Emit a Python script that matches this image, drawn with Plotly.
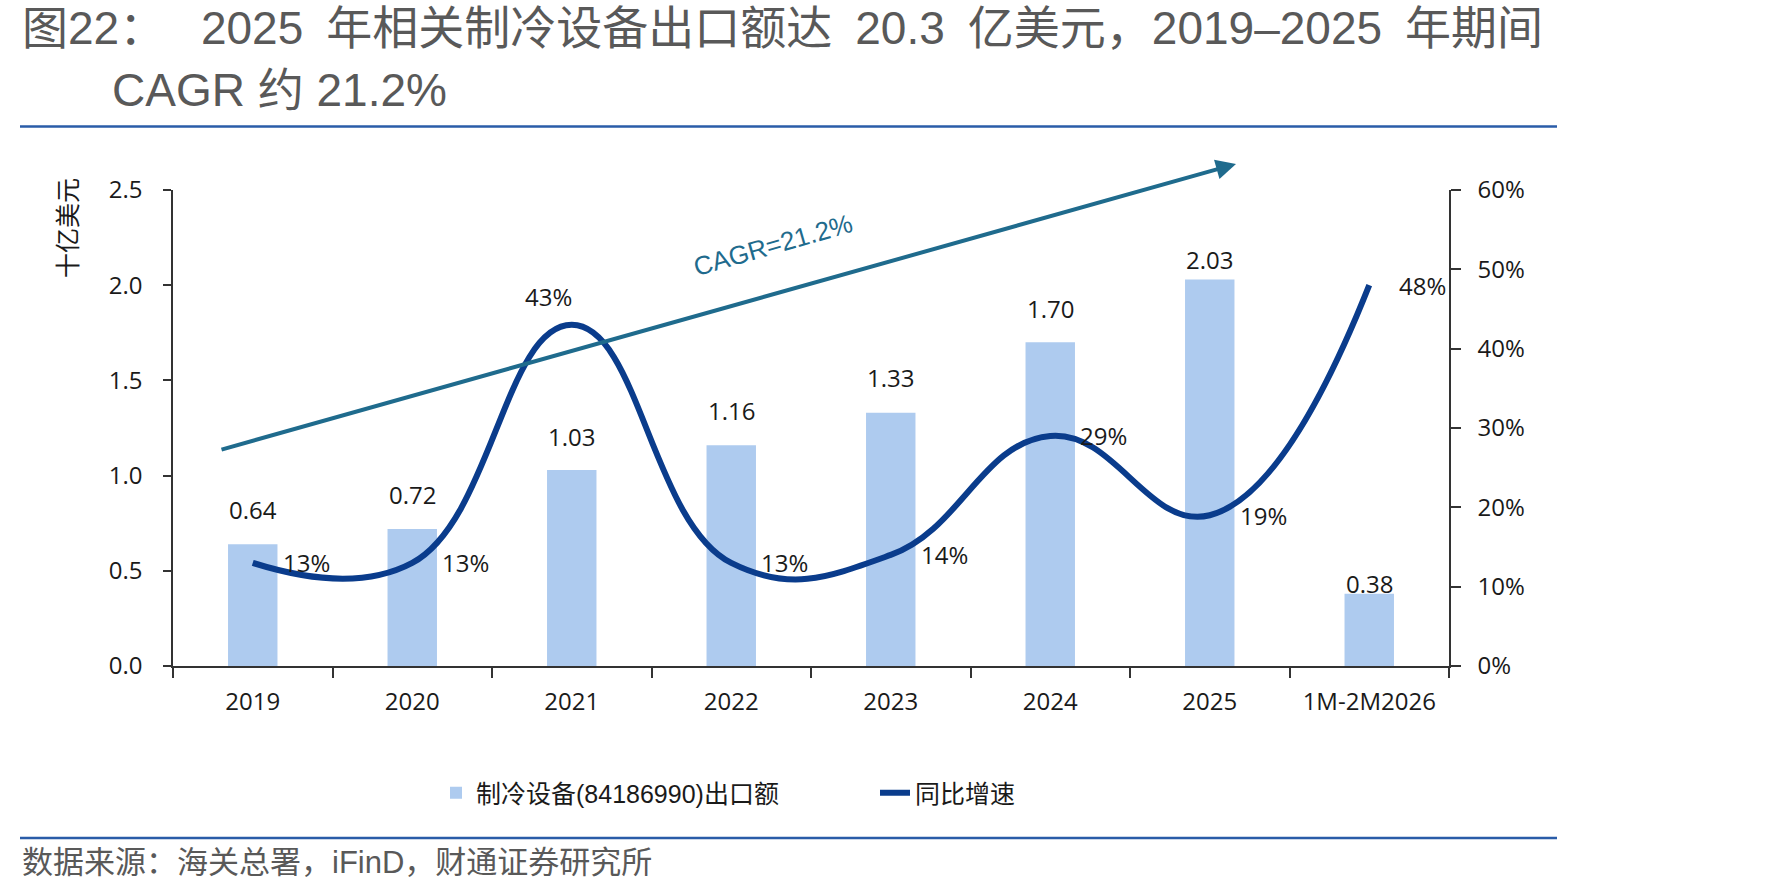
import plotly.graph_objects as go

# ---------------- data ----------------
categories = ["2019", "2020", "2021", "2022", "2023", "2024", "2025", "1M-2M2026"]
export_value = [0.64, 0.72, 1.03, 1.16, 1.33, 1.70, 2.03, 0.38]   # 十亿美元
yoy_growth = [13, 13, 43, 13, 14, 29, 19, 48]                       # %
left_ticks = [0.0, 0.5, 1.0, 1.5, 2.0, 2.5]
right_ticks = [0, 10, 20, 30, 40, 50, 60]
cagr_label = "CAGR=21.2%"
bar_name = "制冷设备(84186990)出口额"
line_name = "同比增速"
title_line1 = "图22：\u2002 2025\u2002年相关制冷设备出口额达\u200220.3\u2002亿美元，2019–2025\u2002年期间"
title_line2 = "CAGR 约 21.2%"
source_text = "数据来源：海关总署，iFinD，财通证券研究所"
y_title = "十亿美元"

# ---------------- style ----------------
W, H = 1771, 892
L, R, T, B = 173, 1449, 190, 666
BAR_COLOR = "#AECBEF"
LINE_COLOR = "#0A3C8C"
ARROW_COLOR = "#1F6B8D"
AXIS_COLOR = "#333333"
TEXT_COLOR = "#1A1A1A"
GRAY = "#595959"
RULE_COLOR = "#2A5CA8"
CHART_FONT = "Open Sans, Noto Sans CJK SC, sans-serif"
CJK_FONT = "Liberation Sans, Noto Sans CJK SC, sans-serif"

bar_label_shift = [35, 34, 33, 35, 35, 34, 20, 10]


def px(xp):
    return (xp - L) / (R - L)


def py(yp):
    return (B - yp) / (B - T)


fig = go.Figure()
fig.add_trace(go.Bar(
    x=categories, y=export_value, name=bar_name,
    marker=dict(color=BAR_COLOR, line=dict(width=0)), width=0.31,
))
fig.add_trace(go.Scatter(
    x=categories, y=yoy_growth, name=line_name, yaxis="y2", mode="lines",
    line=dict(color=LINE_COLOR, width=6, shape="spline", smoothing=1.25),
))

annotations = []
# bar value labels (x given as category index so year-like names stay categorical)
for i, (v, s) in enumerate(zip(export_value, bar_label_shift)):
    annotations.append(dict(
        x=i, y=v, xref="x", yref="y", text=f"{v:.2f}", showarrow=False,
        xanchor="center", yanchor="middle", yshift=s,
        font=dict(family=CHART_FONT, size=24, color=TEXT_COLOR),
    ))
# growth labels
for i, v in enumerate(yoy_growth):
    if i == 2:
        pos = dict(xanchor="center", yanchor="middle", xshift=-23, yshift=28)
    else:
        pos = dict(xanchor="left", yanchor="middle", xshift=28, yshift=0)
    annotations.append(dict(
        x=i, y=v, xref="x", yref="y2", text=f"{v:.0f}%", showarrow=False,
        font=dict(family=CHART_FONT, size=24, color=TEXT_COLOR), **pos,
    ))

# CAGR arrow and its label
annotations.append(dict(
    x=px(1236), y=py(164), xref="paper", yref="paper", text="",
    showarrow=True, arrowhead=2, arrowsize=1.0, arrowwidth=4,
    arrowcolor=ARROW_COLOR, ax=220 - 1236, ay=450 - 164,
    axref="pixel", ayref="pixel", standoff=0,
))
annotations.append(dict(
    x=px(773), y=py(245), xref="paper", yref="paper", text=cagr_label,
    showarrow=False, textangle=-16, xanchor="center", yanchor="middle",
    font=dict(family="Liberation Sans, sans-serif", size=26, color=ARROW_COLOR),
))

# y axis title
annotations.append(dict(
    x=px(68), y=py(228), xref="paper", yref="paper", text=y_title,
    showarrow=False, textangle=-90, xanchor="center", yanchor="middle",
    font=dict(family=CJK_FONT, size=25, color=TEXT_COLOR),
))

# titles and source
annotations.append(dict(
    x=px(20), y=py(28), xref="paper", yref="paper", text=title_line1,
    showarrow=False, xanchor="left", yanchor="middle",
    font=dict(family=CJK_FONT, size=46, color=GRAY),
))
annotations.append(dict(
    x=px(110), y=py(90), xref="paper", yref="paper", text=title_line2,
    showarrow=False, xanchor="left", yanchor="middle",
    font=dict(family=CJK_FONT, size=46, color=GRAY),
))
annotations.append(dict(
    x=px(20), y=py(863), xref="paper", yref="paper", text=source_text,
    showarrow=False, xanchor="left", yanchor="middle",
    font=dict(family=CJK_FONT, size=31, color=GRAY),
))

shapes = [
    dict(type="line", xref="paper", yref="paper", x0=px(20), x1=px(1557),
         y0=py(126.5), y1=py(126.5), line=dict(color=RULE_COLOR, width=2.5)),
    dict(type="line", xref="paper", yref="paper", x0=px(20), x1=px(1557),
         y0=py(838), y1=py(838), line=dict(color=RULE_COLOR, width=2.5)),
]

fig.update_layout(
    width=W, height=H,
    margin=dict(l=L, r=W - R, t=T, b=H - B, pad=0),
    paper_bgcolor="white", plot_bgcolor="white",
    showlegend=True,
    legend=dict(
        orientation="h", x=px(436), xanchor="left", y=py(793), yanchor="middle",
        font=dict(family=CJK_FONT, size=25, color=TEXT_COLOR),
        entrywidth=394, entrywidthmode="pixels", bgcolor="rgba(0,0,0,0)",
    ),
    annotations=annotations,
    shapes=shapes,
    xaxis=dict(
        type="category", range=[-0.5, 7.5], tickson="boundaries",
        ticks="outside", ticklen=10, tickwidth=1.5, tickcolor=AXIS_COLOR,
        showline=True, linecolor=AXIS_COLOR, linewidth=1.5, showgrid=False,
        tickfont=dict(family=CHART_FONT, size=24, color=TEXT_COLOR),
        ticklabelstandoff=13,
    ),
    yaxis=dict(
        range=[0, 2.5], tickmode="array", tickvals=left_ticks,
        ticktext=[f"{v:.1f}" for v in left_ticks],
        ticks="outside", ticklen=8, tickwidth=1.5, tickcolor=AXIS_COLOR,
        showline=True, linecolor=AXIS_COLOR, linewidth=1.5,
        showgrid=False, zeroline=False,
        tickfont=dict(family=CHART_FONT, size=24, color=TEXT_COLOR),
        ticklabelstandoff=16,
    ),
    yaxis2=dict(
        overlaying="y", side="right", range=[0, 60], tickmode="array",
        tickvals=right_ticks, ticktext=[f"{v}%" for v in right_ticks],
        ticks="outside", ticklen=10, tickwidth=1.5,
        tickcolor=AXIS_COLOR, showline=True, linecolor=AXIS_COLOR,
        linewidth=1.5, showgrid=False, zeroline=False,
        tickfont=dict(family=CHART_FONT, size=24, color=TEXT_COLOR),
        ticklabelstandoff=12,
    ),
)

fig.write_html("out.html")
